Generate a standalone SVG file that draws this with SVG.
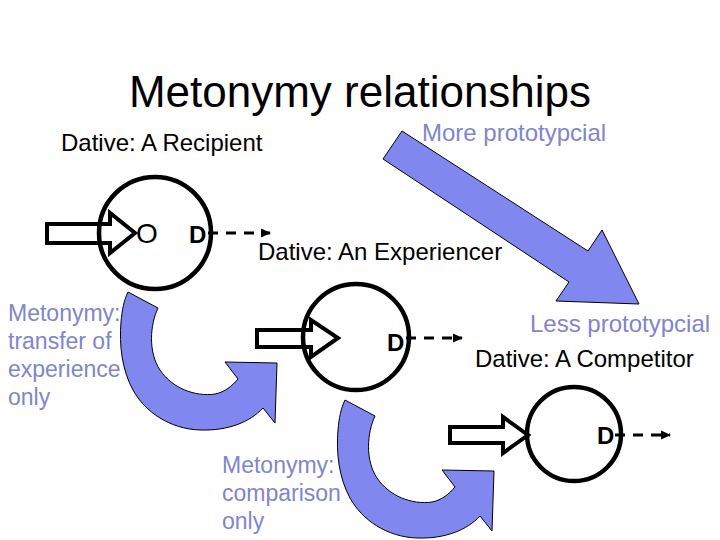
<svg xmlns="http://www.w3.org/2000/svg" width="720" height="540" viewBox="0 0 720 540">
<style>
text{font-family:"Liberation Sans",Arial,sans-serif;}
.title{font-size:44px;fill:#000;text-anchor:middle;}
.lbl{font-size:24px;fill:#000;}
.proto{font-size:24px;fill:#8086c8;}
.side{font-size:23px;fill:#8086c8;}
.d{font-size:24px;font-weight:bold;fill:#000;}
.ring{fill:none;stroke:#000;stroke-width:4.5;}
.block{fill:#fff;stroke:#000;stroke-width:4;stroke-linejoin:miter;}
.dash{stroke:#000;stroke-width:3.2;stroke-dasharray:10 8;fill:none;}
.blue{fill:#8088f0;stroke:#000;stroke-width:1;}
</style>
<defs>
<marker id="ah" markerUnits="userSpaceOnUse" markerWidth="10" markerHeight="10" refX="9" refY="5" orient="auto">
<path d="M0,0.5 L10,5 L0,9.5 Z" fill="#000"/>
</marker>
<path id="curl" d="M128,292 L158,308 C150,325 148,352 160,370 C172,388 195,397 215,394 C225,392 232,386 238,379 L225,362 L277,363 L275,423 L263,408 C250,422 228,431 200,430 C170,429 145,412 133,390 C122,370 119,345 121,322 C122,310 124,300 128,292 Z"/>
</defs>
<rect width="720" height="540" fill="#fff"/>
<text class="title" x="360" y="107">Metonymy relationships</text>
<g id="label-recipient"><text class="lbl" x="61" y="151">Dative: A Recipient</text></g>
<g id="label-more"><text class="proto" x="422" y="141">More prototypcial</text></g>
<g id="label-experiencer"><text class="lbl" x="258" y="260">Dative: An Experiencer</text></g>
<g id="label-less"><text class="proto" x="530" y="332">Less prototypcial</text></g>
<g id="label-competitor"><text class="lbl" x="475" y="367">Dative: A Competitor</text></g>
<g id="label-transfer"><text class="side" x="8" y="321">Metonymy:</text><text class="side" x="8" y="349">transfer of</text><text class="side" x="8" y="377">experience</text><text class="side" x="8" y="405">only</text></g>
<g id="label-comparison"><text class="side" x="222" y="473">Metonymy:</text><text class="side" x="222" y="501">comparison</text><text class="side" x="222" y="529">only</text></g>
<g id="node-recipient">
<polygon class="block" points="47,224 110,224 110,213 135,233 110,253 110,243 47,243"/>
<circle class="ring" cx="155" cy="233" r="56"/>
<text x="136" y="243" style="font-size:28px;fill:#000">O</text>
<text class="d" x="189" y="243">D</text>
</g>
<g id="node-experiencer">
<polygon class="block" points="257,330 311,330 311,320 338,338 311,357 311,347 257,347"/>
<circle class="ring" cx="356" cy="337" r="53"/>
<text class="d" x="387" y="351">D</text>
</g>
<g id="node-competitor">
<polygon class="block" points="450,427 503,427 503,417 528,435 503,453 503,443 450,443"/>
<circle class="ring" cx="574" cy="434" r="47"/>
<text class="d" x="597" y="444">D</text>
</g>
<g id="connectors">
<line class="dash" x1="208" y1="233" x2="270" y2="233" marker-end="url(#ah)"/>
<line class="dash" x1="406" y1="338" x2="462" y2="338" marker-end="url(#ah)"/>
<line class="dash" x1="615" y1="435" x2="670" y2="435" marker-end="url(#ah)"/>
<polygon class="blue" points="402,131 588,251 602,230 639,304 556,301 569,282 383,159"/>
<use href="#curl" class="blue"/>
<use href="#curl" class="blue" transform="translate(217,108)"/>
</g>
</svg>
